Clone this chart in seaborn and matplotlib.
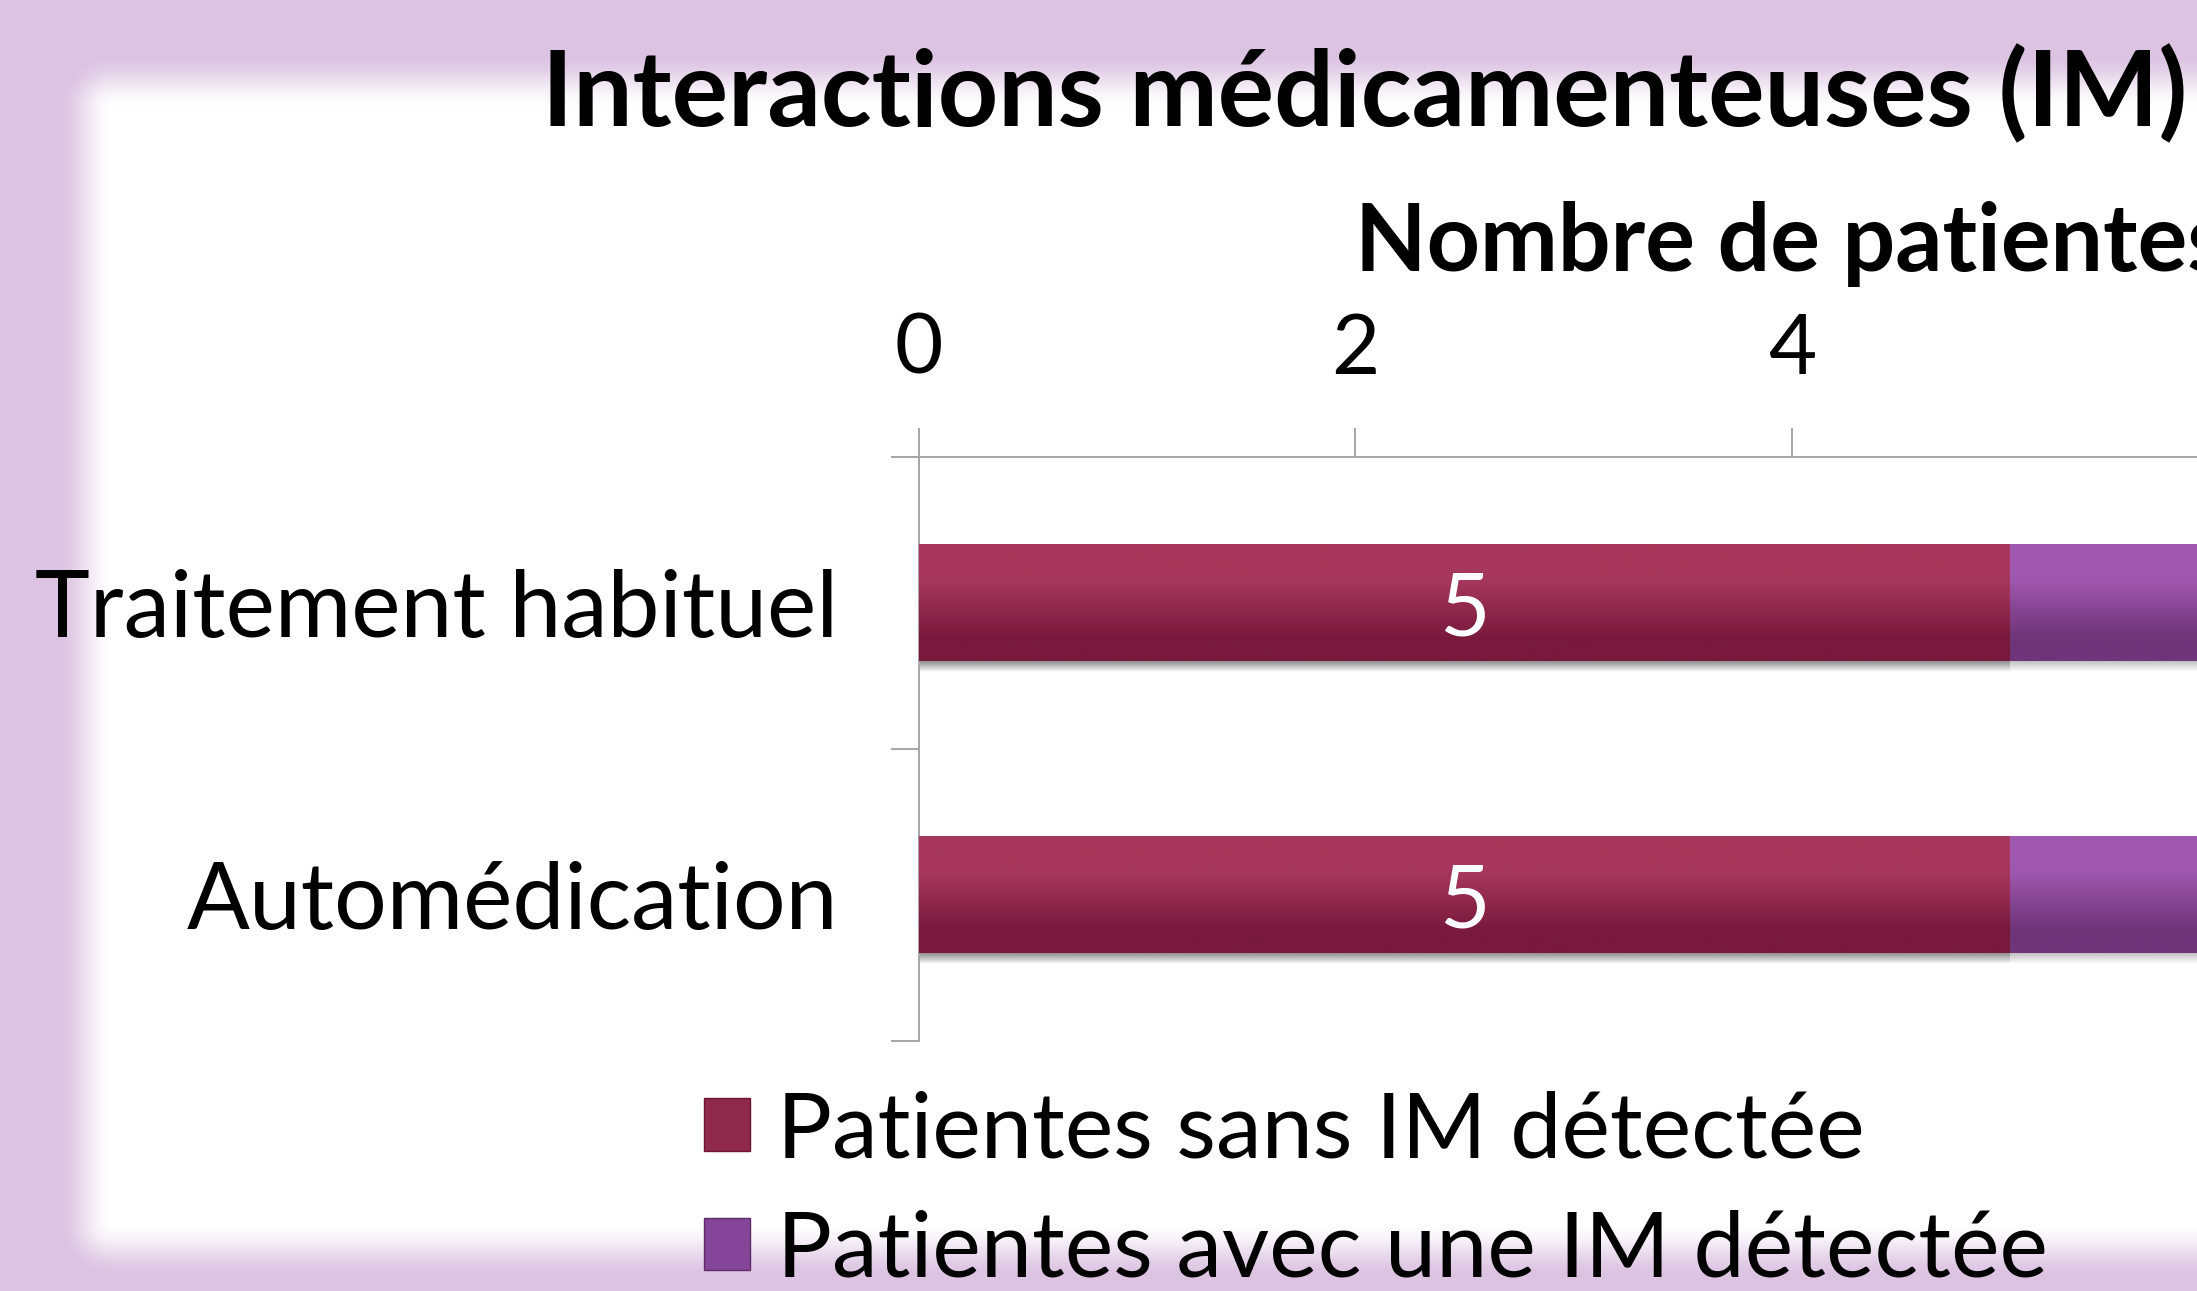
#!/usr/bin/env python3
"""Stacked horizontal bars: drug interactions per treatment type."""
import numpy as np
import pandas as pd
import matplotlib.pyplot as plt
import matplotlib.colors as mcolors
from matplotlib.patches import Patch
import seaborn as sns

categories = ["Traitement habituel", "Automédication"]
sans_im = [5, 5]
avec_im = [3, 3]  # right part is cut off in the picture
series_labels = ["Patientes sans IM détectée", "Patientes avec une IM détectée"]
x_ticks = [0, 2, 4, 6, 8]

MAROON = ("#a7385d", "#791a3c")
PURPLE = ("#a058ae", "#6e3579")
LAVENDER = np.array([220, 195, 226]) / 255.0
FONT = ["Lato", "DejaVu Sans"]

sns.set_theme(style="white")
plt.rcParams["font.family"] = FONT
plt.rcParams["text.color"] = "black"

W, H = 2197, 1291
fig = plt.figure(figsize=(W / 100, H / 100), dpi=100)

# soft lavender frame around a white rounded panel
bg = fig.add_axes([0, 0, 1, 1], zorder=-10)
yy, xx = np.mgrid[0:H, 0:W]
x0, y0, x1, y1 = 112, 108, W + 400, 1222
dx = np.maximum.reduce([x0 - xx, np.zeros_like(xx), xx - x1])
dy = np.maximum.reduce([y0 - yy, np.zeros_like(yy), yy - y1])
t = np.clip(np.hypot(dx, dy) / 55.0, 0, 1)
t = t * t * (3 - 2 * t)
img = (1 - t)[..., None] * np.ones(3) + t[..., None] * LAVENDER
bg.imshow(img, extent=[0, W, H, 0], aspect="auto")
bg.set_axis_off()

df = pd.DataFrame({"categorie": categories, "sans": sans_im, "avec": avec_im})
df["total"] = df["sans"] + df["avec"]

ax = fig.add_axes([919 / W, 0.1936, 8 * 218.2 / W, 0.4524])
ax.set_facecolor("none")
sns.barplot(data=df, y="categorie", x="total", color=PURPLE[1], width=0.4,
            orient="h", ax=ax)
sns.barplot(data=df, y="categorie", x="sans", color=MAROON[1], width=0.4,
            orient="h", ax=ax)


def gradient_fill(patch, colors, z):
    x, y = patch.get_x(), patch.get_y()
    w, h = patch.get_width(), patch.get_height()
    mid = mcolors.to_hex(0.5 * (np.array(mcolors.to_rgb(colors[0]))
                                + np.array(mcolors.to_rgb(colors[1]))))
    cmap = mcolors.LinearSegmentedColormap.from_list(
        "g", [(0, colors[0]), (0.3, colors[0]), (0.55, mid), (0.8, colors[1]), (1, colors[1])])
    grad = np.linspace(0, 1, 64).reshape(-1, 1)
    ax.imshow(grad, cmap=cmap, extent=[x, x + w, y + h, y], aspect="auto",
              zorder=z, interpolation="bicubic")
    # faint shadow under the bar
    sh = mcolors.LinearSegmentedColormap.from_list(
        "s", [(0, 0, 0, 0.25), (0, 0, 0, 0.0)])
    ax.imshow(grad, cmap=sh, extent=[x, x + w, y + h + 0.035, y + h],
              aspect="auto", zorder=z - 0.5)
    patch.set_visible(False)


n = len(categories)
for p in ax.patches[:n]:
    gradient_fill(p, PURPLE, 2)
for p in ax.patches[n:2 * n]:
    gradient_fill(p, MAROON, 3)

ax.set_xlim(0, 8)
ax.set_ylim(1.5, -0.5)

for txt in ax.bar_label(ax.containers[1], labels=[str(v) for v in sans_im],
                        label_type="center", color="white", fontsize=63, zorder=5):
    txt.set_va("center_baseline")
for i, (s, a) in enumerate(zip(sans_im, avec_im)):
    ax.text(s + a / 2, i, str(a), color="white", fontsize=63,
            ha="center", va="center_baseline", zorder=5)

# axes styling
grey = "#a6a6a6"
ax.xaxis.tick_top()
ax.xaxis.set_label_position("top")
ax.set_xticks(x_ticks)
ax.tick_params(axis="x", direction="out", length=21, width=1.4, color=grey,
               pad=28, labelsize=60, labelcolor="black")
ax.set_yticks(range(n))
ax.set_yticks([-0.5, 0.5, 1.5], minor=True)
ax.tick_params(axis="y", which="major", length=0, pad=58, labelsize=67,
               labelcolor="black")
ax.tick_params(axis="y", which="minor", direction="out", length=20, width=1.4,
               color=grey, left=True)
for side in ["right", "bottom"]:
    ax.spines[side].set_visible(False)
for side in ["top", "left"]:
    ax.spines[side].set_color(grey)
    ax.spines[side].set_linewidth(1.4)
ax.set_ylabel("")
ax.set_xlabel("Nombre de patientes", fontsize=67, fontweight="bold", labelpad=30,
              color="black")

fig.text(0.621, 0.902, "Interactions médicamenteuses (IM)", fontsize=76,
         fontweight="bold", ha="center", va="baseline", color="black")

handles = [Patch(facecolor="#8f2a4c", edgecolor="#6e1535"),
           Patch(facecolor="#85469a", edgecolor="#5f2c6a")]
fig.legend(handles, series_labels, loc="upper left",
           bbox_to_anchor=(704 / W, 1 - 1090 / H),
           frameon=False, fontsize=66, handlelength=0.5, handleheight=0.5,
           handletextpad=0.3, labelspacing=0.4, borderpad=0, borderaxespad=0,
           labelcolor="black")

fig.savefig("out.png", dpi=100)
